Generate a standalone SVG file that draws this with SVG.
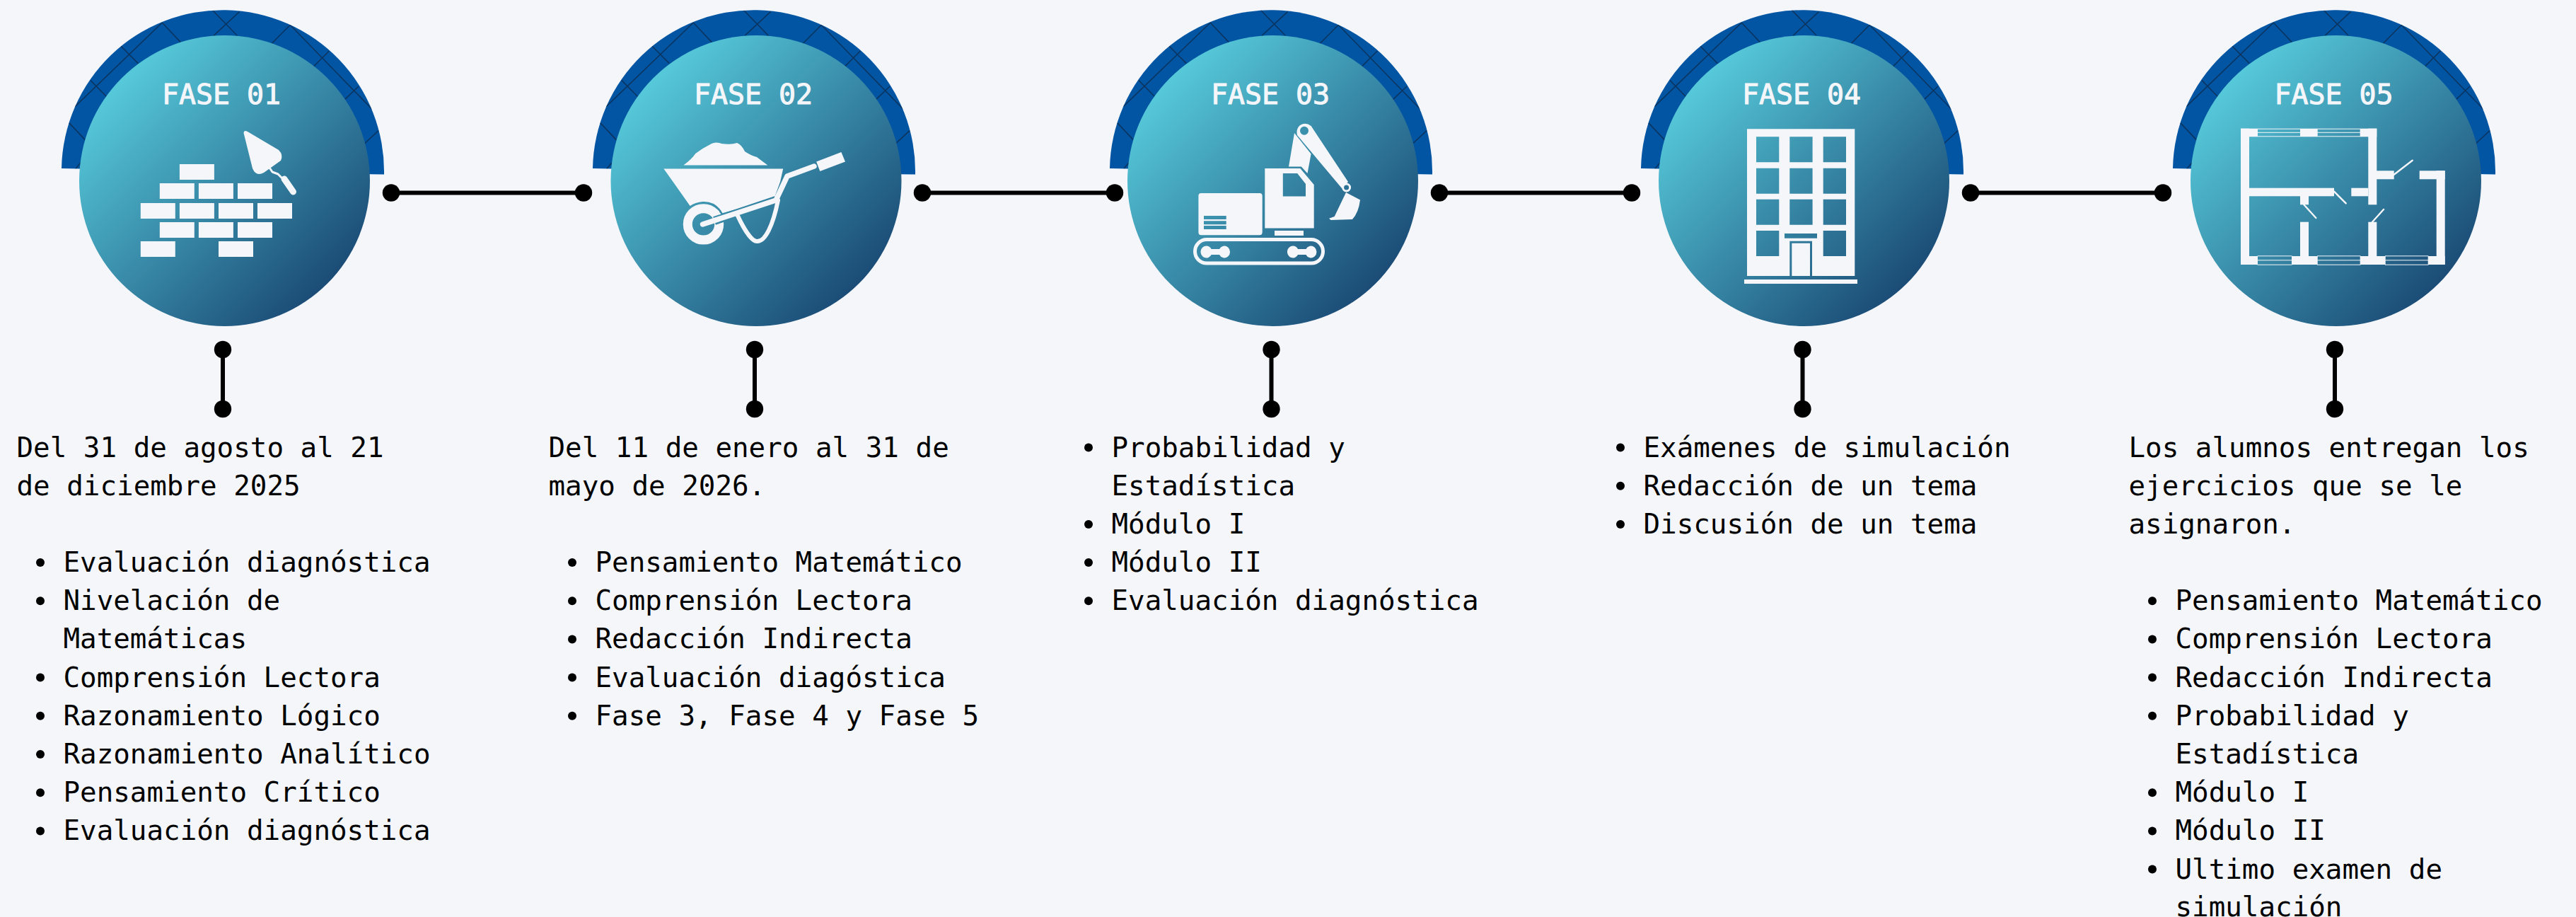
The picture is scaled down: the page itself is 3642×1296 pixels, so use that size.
<svg xmlns="http://www.w3.org/2000/svg" xmlns:xlink="http://www.w3.org/1999/xlink" width="3642" height="1296" viewBox="0 0 3642 1296">
<style>
text{font-family:"DejaVu Sans Mono","Liberation Mono",monospace}
.b{font-size:39.2px;fill:#000}
.t{font-size:39.9px;fill:#f4f6fa;stroke:#f4f6fa;stroke-width:1px;text-anchor:middle}
.w{fill:#f4f6fa}
.r{stroke:#0b3560;stroke-width:1.6;fill:none}
.c{stroke:#000;stroke-width:6;fill:none}
.s{stroke:#f4f6fa;fill:none;stroke-linecap:round;stroke-linejoin:round}
</style>
<defs>
<linearGradient id="stops"><stop offset="0" stop-color="#57cbdb"/><stop offset="1" stop-color="#1a4a75"/></linearGradient>
<linearGradient id="g1" xlink:href="#stops" gradientUnits="userSpaceOnUse" x1="167.5" y1="105" x2="467.5" y2="405"/>
<linearGradient id="g2" xlink:href="#stops" gradientUnits="userSpaceOnUse" x1="919" y1="105" x2="1219" y2="405"/>
<linearGradient id="g3" xlink:href="#stops" gradientUnits="userSpaceOnUse" x1="1649.5" y1="105" x2="1949.5" y2="405"/>
<linearGradient id="g4" xlink:href="#stops" gradientUnits="userSpaceOnUse" x1="2400.5" y1="105" x2="2700.5" y2="405"/>
<linearGradient id="g5" xlink:href="#stops" gradientUnits="userSpaceOnUse" x1="3152.5" y1="105" x2="3452.5" y2="405"/>
<clipPath id="arcclip"><path d="M-228,-4.3A228,228 0 0 1 228,4.3Z"/></clipPath>
<g id="arc">
<path d="M-228,-4.3A228,228 0 0 1 228,4.3Z" fill="#0255a3"/>
<g clip-path="url(#arcclip)">
<path class="r" d="M-14.7,-228L20.3,-192M23.7,-226L-13,-192M-85.7,-210.3L-59.7,-182.7M-85.7,-210.3L-208.7,-92M-144,-177L-119.7,-152.7M-187,-128.7L-164.7,-106M-217.3,-68.7L-194.7,-44.7M95.3,-207L68.7,-180.3M95.3,-207L212,-87M150.3,-170.3L128.7,-148.7M192,-120.3L172.7,-102M220.3,-58L200.3,-39.3M-201.3,-12L-208,-4"/>
</g>
</g>
<marker id="dot" markerUnits="userSpaceOnUse" markerWidth="26" markerHeight="26" refX="13" refY="13" overflow="visible"><circle cx="13" cy="13" r="12.2" fill="#000"/></marker>
<g id="brick"><rect width="49" height="22" class="w"/></g>
</defs>
<rect width="3642" height="1296" fill="#f4f6fa"/>
<g id="connectors">
<line class="c" x1="553" y1="272.5" x2="825" y2="272.5" marker-start="url(#dot)" marker-end="url(#dot)"/>
<line class="c" x1="1304" y1="272.5" x2="1576" y2="272.5" marker-start="url(#dot)" marker-end="url(#dot)"/>
<line class="c" x1="2035" y1="272.5" x2="2307" y2="272.5" marker-start="url(#dot)" marker-end="url(#dot)"/>
<line class="c" x1="2786" y1="272.5" x2="3058" y2="272.5" marker-start="url(#dot)" marker-end="url(#dot)"/>
<line class="c" x1="315" y1="494" x2="315" y2="578" marker-start="url(#dot)" marker-end="url(#dot)"/>
<line class="c" x1="1067" y1="494" x2="1067" y2="578" marker-start="url(#dot)" marker-end="url(#dot)"/>
<line class="c" x1="1797.5" y1="494" x2="1797.5" y2="578" marker-start="url(#dot)" marker-end="url(#dot)"/>
<line class="c" x1="2548.5" y1="494" x2="2548.5" y2="578" marker-start="url(#dot)" marker-end="url(#dot)"/>
<line class="c" x1="3301" y1="494" x2="3301" y2="578" marker-start="url(#dot)" marker-end="url(#dot)"/>
</g>
<g id="fase-01">
<use xlink:href="#arc" x="315" y="242.3"/>
<circle cx="317.5" cy="255.5" r="205.5" fill="url(#g1)"/>
<text class="t" x="313" y="146.5">FASE 01</text>
<g id="icon-01">
<use xlink:href="#brick" x="253.9" y="232"/>
<use xlink:href="#brick" x="225.8" y="259"/><use xlink:href="#brick" x="280.9" y="259"/><use xlink:href="#brick" x="336" y="259"/>
<use xlink:href="#brick" x="198.8" y="287"/><use xlink:href="#brick" x="253.9" y="287"/><use xlink:href="#brick" x="309" y="287"/><use xlink:href="#brick" x="364" y="287"/>
<use xlink:href="#brick" x="225.8" y="314"/><use xlink:href="#brick" x="280.9" y="314"/><use xlink:href="#brick" x="336" y="314"/>
<use xlink:href="#brick" x="198.8" y="341"/><use xlink:href="#brick" x="309" y="341"/>
<path class="w" d="M344.5,188Q345,183 350,186L394,212Q401,219 397,227L373,244Q362,250 357,238Z"/>
<path class="s" stroke-width="3" d="M381,237L385,243L393,246L398,251"/>
<path class="s" stroke-width="9" d="M402,253L414.5,271"/>
</g>
<text class="b" x="23.5" y="645.5">Del 31 de agosto al 21</text>
<text class="b" x="23.5" y="699.7">de diciembre 2025</text>
<circle class="bul" cx="57" cy="795" r="6"/><text class="b" x="89.5" y="808">Evaluación diagnóstica</text>
<circle class="bul" cx="57" cy="849.2" r="6"/><text class="b" x="89.5" y="862.2">Nivelación de</text>
<text class="b" x="89.5" y="916.4">Matemáticas</text>
<circle class="bul" cx="57" cy="957.6" r="6"/><text class="b" x="89.5" y="970.6">Comprensión Lectora</text>
<circle class="bul" cx="57" cy="1011.8" r="6"/><text class="b" x="89.5" y="1024.8">Razonamiento Lógico</text>
<circle class="bul" cx="57" cy="1066" r="6"/><text class="b" x="89.5" y="1079">Razonamiento Analítico</text>
<circle class="bul" cx="57" cy="1120.2" r="6"/><text class="b" x="89.5" y="1133.2">Pensamiento Crítico</text>
<circle class="bul" cx="57" cy="1174.4" r="6"/><text class="b" x="89.5" y="1187.4">Evaluación diagnóstica</text>
</g>
<g id="fase-02">
<use xlink:href="#arc" x="1066" y="242.3"/>
<circle cx="1069" cy="255.5" r="205.5" fill="url(#g2)"/>
<text class="t" x="1065" y="146.5">FASE 02</text>
<g id="icon-02">
<path class="w" d="M966.4,233.4Q978,225 983.3,217Q994,209 1006,203Q1012,200 1020,203Q1034,205 1042,202Q1048,204 1053,214Q1060,219 1070,222L1085.3,233.4Z"/>
<path class="w" d="M938.4,238.4H1107.2L1103.2,256.4L1094.5,280.5L1021.5,301.2Q1012,284 993.5,285Q983,286 975.6,290.9Z"/>
<circle cx="994.5" cy="316.9" r="22.2" fill="none" stroke="#f4f6fa" stroke-width="13"/>
<path fill="none" stroke="url(#g2)" stroke-width="12" d="M1010,312L1097,283"/>
<path class="s" stroke-width="7.5" d="M993.5,317L1097,283L1113,249L1151,235"/>
<path class="s" stroke-width="6" d="M1100,283C1093,318 1082,342 1070,341C1062,341 1050,320 1043,305"/>
<path class="w" d="M1154.2,228.5L1189.4,215L1195,228.5L1159.3,241.9Z"/>
</g>
<text class="b" x="775.5" y="645.5">Del 11 de enero al 31 de</text>
<text class="b" x="775.5" y="699.7">mayo de 2026.</text>
<circle class="bul" cx="809" cy="795" r="6"/><text class="b" x="841.5" y="808">Pensamiento Matemático</text>
<circle class="bul" cx="809" cy="849.2" r="6"/><text class="b" x="841.5" y="862.2">Comprensión Lectora</text>
<circle class="bul" cx="809" cy="903.4" r="6"/><text class="b" x="841.5" y="916.4">Redacción Indirecta</text>
<circle class="bul" cx="809" cy="957.6" r="6"/><text class="b" x="841.5" y="970.6">Evaluación diagóstica</text>
<circle class="bul" cx="809" cy="1011.8" r="6"/><text class="b" x="841.5" y="1024.8">Fase 3, Fase 4 y Fase 5</text>
</g>
<g id="fase-03">
<use xlink:href="#arc" x="1797" y="242.3"/>
<circle cx="1799.5" cy="255.5" r="205.5" fill="url(#g3)"/>
<text class="t" x="1796" y="146.5">FASE 03</text>
<g id="icon-03">
<path class="w" fill-rule="evenodd" d="M1698,272.9H1781Q1784.7,272.9 1784.7,277V328Q1784.7,332.2 1781,332.2H1698Q1694.4,332.2 1694.4,328V277Q1694.4,272.9 1698,272.9ZM1702,305H1733.7V310H1702ZM1702,312.3H1733.7V317.3H1702ZM1702,319H1733.7V324H1702Z"/>
<path class="w" fill-rule="evenodd" d="M1788.3,238H1838.3L1857.7,261V322.6H1788.3ZM1813.8,245H1834.2L1846,260V277.5H1813.8Z"/>
<rect class="w" x="1802" y="326" width="41" height="7"/>
<rect x="1689.5" y="338.6" width="181" height="33.4" rx="16.5" fill="none" stroke="#f4f6fa" stroke-width="5"/>
<path class="w" d="M1705.6,347.5a8,8.5 0 0 1 7,4.5h11.4a8,8.5 0 1 1 0,8h-11.4a8,8.5 0 1 1 -7,-12.5ZM1828,347.5a8,8.5 0 0 1 7,4.5h11.4a8,8.5 0 1 1 0,8h-11.4a8,8.5 0 1 1 -7,-12.5Z"/>
<path class="w" fill-rule="evenodd" d="M1838,177Q1846,172 1853.6,178L1906,257L1897,266L1834,191Q1832,182 1838,177ZM1850,184.8a6,6 0 1 0 -12,0a6,6 0 1 0 12,0Z"/>
<path class="w" d="M1830,188L1853.6,217.4L1848.5,245L1839.8,235.4H1822Z"/>
<circle cx="1903.6" cy="265" r="5" fill="none" stroke="#f4f6fa" stroke-width="3"/>
<path class="w" d="M1903,272L1923,282.4Q1921,300 1912,310L1881.6,311L1879,308.8L1886.7,306Z"/>
</g>
<circle class="bul" cx="1539" cy="632.5" r="6"/><text class="b" x="1571.5" y="645.5">Probabilidad y</text>
<text class="b" x="1571.5" y="699.7">Estadística</text>
<circle class="bul" cx="1539" cy="740.9" r="6"/><text class="b" x="1571.5" y="753.9">Módulo I</text>
<circle class="bul" cx="1539" cy="795" r="6"/><text class="b" x="1571.5" y="808">Módulo II</text>
<circle class="bul" cx="1539" cy="849.2" r="6"/><text class="b" x="1571.5" y="862.2">Evaluación diagnóstica</text>
</g>
<g id="fase-04">
<use xlink:href="#arc" x="2548" y="242.3"/>
<circle cx="2550.5" cy="255.5" r="205.5" fill="url(#g4)"/>
<text class="t" x="2547" y="146.5">FASE 04</text>
<g id="icon-04">
<path class="w" fill-rule="evenodd" d="M2470,182.3H2622.3V390H2470ZM2483,193.3h32.3v36h-32.3ZM2530.3,193.3h32.3v36h-32.3ZM2577.7,193.3h32.3v36h-32.3ZM2483,237.7h32.3v36h-32.3ZM2530.3,237.7h32.3v36h-32.3ZM2577.7,237.7h32.3v36h-32.3ZM2483,281.7h32.3v36h-32.3ZM2530.3,281.7h32.3v36h-32.3ZM2577.7,281.7h32.3v36h-32.3ZM2483,326h32.3v36h-32.3ZM2577.7,326h32.3v36h-32.3ZM2523,330h46v6.7h-46ZM2530.3,340.7H2562V390H2530.3ZM2533.3,343.7H2559V390H2533.3Z"/>
<rect class="w" x="2466" y="395" width="160" height="6"/>
</g>
<circle class="bul" cx="2291" cy="632.5" r="6"/><text class="b" x="2323.5" y="645.5">Exámenes de simulación</text>
<circle class="bul" cx="2291" cy="686.7" r="6"/><text class="b" x="2323.5" y="699.7">Redacción de un tema</text>
<circle class="bul" cx="2291" cy="740.9" r="6"/><text class="b" x="2323.5" y="753.9">Discusión de un tema</text>
</g>
<g id="fase-05">
<use xlink:href="#arc" x="3300" y="242.3"/>
<circle cx="3302.5" cy="255.5" r="205.5" fill="url(#g5)"/>
<text class="t" x="3299.5" y="146.5">FASE 05</text>
<g id="icon-05">
<g class="w">
<rect x="3168" y="181.7" width="12" height="192.3"/>
<rect x="3168" y="181.7" width="192.3" height="11.6"/>
<rect x="3348.3" y="181.7" width="12" height="107.6"/>
<rect x="3180" y="265.7" width="120" height="11.6"/>
<rect x="3324.3" y="265.7" width="24" height="11.6"/>
<rect x="3252" y="277" width="12" height="12.3"/>
<rect x="3252" y="313.7" width="12" height="60.3"/>
<rect x="3348.3" y="313.7" width="12" height="60.3"/>
<rect x="3168" y="362" width="288.7" height="12"/>
<rect x="3444.7" y="241.3" width="12" height="132.7"/>
<rect x="3420.7" y="241.3" width="36" height="12"/>
<rect x="3360" y="241.3" width="24.7" height="12"/>
<rect x="3191.5" y="361.3" width="49" height="13.4"/>
<rect x="3276" y="361.3" width="61.4" height="13.4"/>
<rect x="3372" y="361.3" width="61.4" height="13.4"/>
</g>
<g fill="url(#g5)">
<rect x="3192" y="182.7" width="60" height="4.1"/><rect x="3192" y="187.8" width="60" height="4.5"/>
<rect x="3276.7" y="182.7" width="60" height="4.1"/><rect x="3276.7" y="187.8" width="60" height="4.5"/>
<rect x="3192" y="362.3" width="48" height="5"/><rect x="3192" y="368.3" width="48" height="5.4"/>
<rect x="3276.7" y="362.3" width="60" height="5"/><rect x="3276.7" y="368.3" width="60" height="5.4"/>
<rect x="3372.7" y="362.3" width="60" height="5"/><rect x="3372.7" y="368.3" width="60" height="5.4"/>
</g>
<path class="s" stroke-width="2.4" d="M3384.7,246.7L3410.7,226.7M3300,270.7L3316.7,287.3M3257.3,289.3L3274.3,308M3354,313.7L3370,296"/>
</g>
<text class="b" x="3009.5" y="645.5">Los alumnos entregan los</text>
<text class="b" x="3009.5" y="699.7">ejercicios que se le</text>
<text class="b" x="3009.5" y="753.9">asignaron.</text>
<circle class="bul" cx="3043" cy="849.2" r="6"/><text class="b" x="3075.5" y="862.2">Pensamiento Matemático</text>
<circle class="bul" cx="3043" cy="903.4" r="6"/><text class="b" x="3075.5" y="916.4">Comprensión Lectora</text>
<circle class="bul" cx="3043" cy="957.6" r="6"/><text class="b" x="3075.5" y="970.6">Redacción Indirecta</text>
<circle class="bul" cx="3043" cy="1011.8" r="6"/><text class="b" x="3075.5" y="1024.8">Probabilidad y</text>
<text class="b" x="3075.5" y="1079">Estadística</text>
<circle class="bul" cx="3043" cy="1120.2" r="6"/><text class="b" x="3075.5" y="1133.2">Módulo I</text>
<circle class="bul" cx="3043" cy="1174.4" r="6"/><text class="b" x="3075.5" y="1187.4">Módulo II</text>
<circle class="bul" cx="3043" cy="1228.6" r="6"/><text class="b" x="3075.5" y="1241.6">Ultimo examen de</text>
<text class="b" x="3075.5" y="1295">simulación</text>
</g>
</svg>
